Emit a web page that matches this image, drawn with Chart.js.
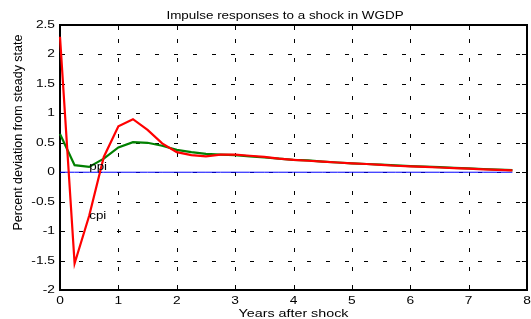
<!DOCTYPE html>
<html>
<head>
  <title>Impulse responses to a shock in WGDP</title>
  <script src="https://cdn.jsdelivr.net/npm/chart.js"></script>
  <style>
    body { margin: 0; background: #fff; }
  </style>
</head>
<body>
  <canvas id="irf" width="531" height="319"></canvas>

  <script>
    // quarterly horizon, in years
    const years = [0, 0.25, 0.5, 0.75, 1, 1.25, 1.5, 1.75, 2, 2.25, 2.5, 2.75, 3, 3.25, 3.5, 3.75,
                   4, 4.25, 4.5, 4.75, 5, 5.25, 5.5, 5.75, 6, 6.25, 6.5, 6.75, 7, 7.25, 7.5, 7.75];
    const cpi = [2.30, -1.55, -0.74, 0.26, 0.78, 0.90, 0.72, 0.49, 0.34, 0.29, 0.27, 0.30, 0.30, 0.28, 0.26, 0.23,
                 0.21, 0.195, 0.18, 0.165, 0.15, 0.14, 0.125, 0.11, 0.10, 0.09, 0.08, 0.07, 0.06, 0.05, 0.04, 0.03];
    const ppi = [0.65, 0.12, 0.09, 0.23, 0.42, 0.51, 0.50, 0.45, 0.38, 0.34, 0.31, 0.30, 0.29, 0.27, 0.25, 0.23,
                 0.21, 0.20, 0.18, 0.165, 0.15, 0.14, 0.13, 0.115, 0.105, 0.095, 0.085, 0.075, 0.065, 0.055, 0.045, 0.035];
    const steady = [0, 0, 0, 0, 0, 0, 0, 0, 0, 0, 0, 0, 0, 0, 0, 0,
                    0, 0, 0, 0, 0, 0, 0, 0, 0, 0, 0, 0, 0, 0, 0, 0];
    const xTicks = [0, 1, 2, 3, 4, 5, 6, 7, 8];
    const yTicks = [-2, -1.5, -1, -0.5, 0, 0.5, 1, 1.5, 2, 2.5];
    const xTickLabels = ['0', '1', '2', '3', '4', '5', '6', '7', '8'];
    const yTickLabels = ['-2', '-1.5', '-1', '-0.5', '0', '0.5', '1', '1.5', '2', '2.5'];

    const FONT = "'Liberation Sans', Arial, sans-serif";

    const pts = (vals) => years.map((t, i) => ({ x: t, y: vals[i] }));

    // the original export is a bit stretched sideways, so the text is too
    function text(ctx, str, x, y, align, baseline, size, sx) {
      ctx.save();
      ctx.translate(x, y);
      ctx.scale(sx, 1);
      ctx.font = size + 'px ' + FONT;
      ctx.textAlign = align;
      ctx.textBaseline = baseline;
      ctx.fillText(str, 0, 0);
      ctx.restore();
    }

    // matlab style: dotted grid, inward ticks and frame under the lines, labels on top
    const matlabAxes = {
      id: 'matlabAxes',
      beforeDatasetsDraw(chart) {
        const { ctx, chartArea: a, scales: { x, y } } = chart;
        const L = Math.round(a.left), R = Math.round(a.right), T = Math.round(a.top), B = Math.round(a.bottom);
        ctx.save();
        ctx.strokeStyle = '#000000';
        ctx.lineWidth = 1;
        ctx.setLineDash([4, 15]);
        xTicks.forEach(v => {
          if (v <= x.min || v >= x.max) return;
          const px = Math.round(x.getPixelForValue(v)) + 0.5;
          ctx.beginPath(); ctx.moveTo(px, B); ctx.lineTo(px, T); ctx.stroke();
        });
        yTicks.forEach(v => {
          if (v <= y.min || v >= y.max) return;
          const py = Math.round(y.getPixelForValue(v)) + 0.5;
          ctx.beginPath(); ctx.moveTo(L, py); ctx.lineTo(R, py); ctx.stroke();
        });
        ctx.restore();

        ctx.save();
        ctx.fillStyle = '#000000';
        const tl = 5;
        xTicks.forEach(v => {
          const px = Math.round(x.getPixelForValue(v));
          ctx.fillRect(px, B - tl, 1, tl);
          ctx.fillRect(px, T, 1, tl);
        });
        yTicks.forEach(v => {
          const py = Math.round(y.getPixelForValue(v));
          ctx.fillRect(L, py, tl, 1);
          ctx.fillRect(R - tl, py, tl, 1);
        });
        ctx.fillRect(L - 1, T - 1, R - L + 2, 2);
        ctx.fillRect(L - 1, B - 1, R - L + 2, 2);
        ctx.fillRect(L - 1, T - 1, 2, B - T + 2);
        ctx.fillRect(R - 1, T - 1, 2, B - T + 2);
        ctx.restore();
      },
      afterDraw(chart) {
        const { ctx, chartArea: a, scales: { x, y } } = chart;
        ctx.save();
        ctx.fillStyle = '#000';
        xTicks.forEach((v, i) => text(ctx, xTickLabels[i], x.getPixelForValue(v), 304, 'center', 'alphabetic', 11, 1.25));
        yTicks.forEach((v, i) => text(ctx, yTickLabels[i], a.left - 5, y.getPixelForValue(v), 'right', 'middle', 11, 1.25));

        text(ctx, 'Impulse responses to a shock in WGDP', 285, 19, 'center', 'alphabetic', 11, 1.22);
        text(ctx, 'Years after shock', 293.5, 317, 'center', 'alphabetic', 11, 1.3);

        ctx.save();
        ctx.translate(21.5, 132.5);
        ctx.rotate(-Math.PI / 2);
        ctx.font = '12.5px ' + FONT;
        ctx.textAlign = 'center';
        ctx.textBaseline = 'alphabetic';
        ctx.fillText('Percent deviation from steady state', 0, 0);
        ctx.restore();

        text(ctx, 'ppi', x.getPixelForValue(years[2]), y.getPixelForValue(ppi[2]), 'left', 'middle', 11, 1.22);
        text(ctx, 'cpi', x.getPixelForValue(years[2]), y.getPixelForValue(cpi[2]), 'left', 'middle', 11, 1.22);
        ctx.restore();
      }
    };

    new Chart(document.getElementById('irf').getContext('2d'), {
      type: 'line',
      data: {
        datasets: [
          { label: 'cpi', data: pts(cpi), borderColor: '#ff0000', borderWidth: 2.2, tension: 0, pointRadius: 0, clip: 4 },
          { label: 'ppi', data: pts(ppi), borderColor: 'rgb(0,128,0)', borderWidth: 2.2, tension: 0, pointRadius: 0, clip: 4 },
          { label: 'steady state', data: pts(steady), borderColor: '#0000ff', borderWidth: 1, tension: 0, pointRadius: 0 }
        ]
      },
      options: {
        responsive: false,
        animation: false,
        layout: { padding: { left: 0, right: 4, top: 25, bottom: 0 } },
        plugins: {
          legend: { display: false },
          tooltip: { enabled: false },
          title: { display: false }
        },
        scales: {
          x: {
            type: 'linear',
            min: 0, max: 8,
            afterFit: s => { s.height = 29; },
            grid: { display: false },
            border: { display: false },
            ticks: { display: false }
          },
          y: {
            type: 'linear',
            min: -2, max: 2.5,
            afterFit: s => { s.width = 60; },
            grid: { display: false },
            border: { display: false },
            ticks: { display: false }
          }
        }
      },
      plugins: [matlabAxes]
    });
  </script>
</body>
</html>
